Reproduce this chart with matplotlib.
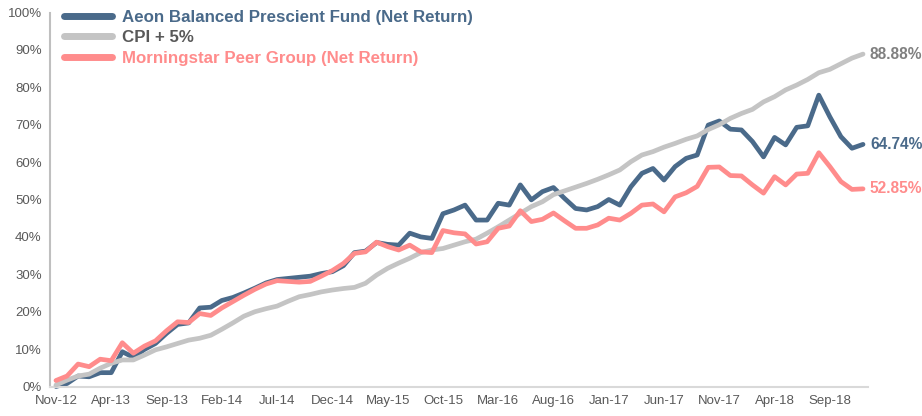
import matplotlib
matplotlib.use('Agg')
import matplotlib.pyplot as plt

# monthly, Nov-12 .. Dec-18 (cumulative %)
months = ["Nov-12", "Dec-12", "Jan-13", "Feb-13", "Mar-13", "Apr-13", "May-13", "Jun-13",
          "Jul-13", "Aug-13", "Sep-13", "Oct-13", "Nov-13", "Dec-13", "Jan-14", "Feb-14",
          "Mar-14", "Apr-14", "May-14", "Jun-14", "Jul-14", "Aug-14", "Sep-14", "Oct-14",
          "Nov-14", "Dec-14", "Jan-15", "Feb-15", "Mar-15", "Apr-15", "May-15", "Jun-15",
          "Jul-15", "Aug-15", "Sep-15", "Oct-15", "Nov-15", "Dec-15", "Jan-16", "Feb-16",
          "Mar-16", "Apr-16", "May-16", "Jun-16", "Jul-16", "Aug-16", "Sep-16", "Oct-16",
          "Nov-16", "Dec-16", "Jan-17", "Feb-17", "Mar-17", "Apr-17", "May-17", "Jun-17",
          "Jul-17", "Aug-17", "Sep-17", "Oct-17", "Nov-17", "Dec-17", "Jan-18", "Feb-18",
          "Mar-18", "Apr-18", "May-18", "Jun-18", "Jul-18", "Aug-18", "Sep-18", "Oct-18",
          "Nov-18", "Dec-18"]

fund = [0.0, 0.8, 2.8, 2.6, 3.7, 3.7, 9.3, 7.8, 9.9, 11.5, 14.2, 16.6, 17.0, 21.0, 21.2,
        23.0, 23.8, 25.0, 26.3, 27.7, 28.6, 28.9, 29.2, 29.5, 30.2, 30.7, 32.3, 35.8, 36.2,
        38.5, 38.0, 37.8, 41.0, 40.0, 39.6, 46.2, 47.2, 48.5, 44.5, 44.5, 49.0, 48.5, 53.9,
        49.9, 52.1, 53.2, 50.3, 47.6, 47.2, 48.1, 50.0, 48.5, 53.4, 57.0, 58.3, 55.2, 58.8,
        61.0, 61.9, 69.9, 71.0, 68.8, 68.6, 65.5, 61.4, 66.6, 64.6, 69.3, 69.7, 77.9, 72.1,
        66.8, 63.7, 64.74]

cpi = [0.4, 1.7, 2.8, 3.3, 4.9, 6.2, 7.1, 7.1, 8.4, 9.8, 10.6, 11.5, 12.4, 12.9, 13.7,
       15.3, 17.0, 18.8, 20.0, 20.8, 21.5, 22.8, 24.0, 24.6, 25.3, 25.8, 26.2, 26.5, 27.6,
       29.8, 31.6, 33.0, 34.3, 35.8, 36.5, 36.9, 37.8, 38.7, 39.4, 41.0, 42.7, 44.5, 46.3,
       48.1, 49.4, 51.3, 52.3, 53.3, 54.3, 55.4, 56.6, 57.9, 60.1, 61.9, 62.8, 64.0, 65.0,
       66.1, 67.0, 68.7, 70.0, 71.7, 73.0, 74.1, 76.1, 77.5, 79.3, 80.6, 82.1, 83.9, 84.8,
       86.3, 87.8, 88.88]

peer = [1.6, 2.8, 6.0, 5.3, 7.3, 6.9, 11.7, 8.9, 10.8, 12.2, 14.9, 17.3, 17.1, 19.5, 19.0,
        21.0, 22.7, 24.4, 26.0, 27.4, 28.3, 28.1, 27.9, 28.1, 29.5, 31.0, 32.9, 35.6, 36.0,
        38.6, 37.4, 36.5, 37.8, 36.0, 35.8, 41.7, 41.1, 40.8, 38.1, 38.7, 42.3, 42.9, 47.0,
        44.1, 44.7, 46.4, 44.3, 42.3, 42.3, 43.2, 45.0, 44.5, 46.3, 48.5, 48.8, 46.7, 50.7,
        51.8, 53.5, 58.6, 58.7, 56.4, 56.3, 53.9, 51.7, 56.1, 53.9, 56.8, 57.0, 62.5, 58.8,
        54.8, 52.7, 52.85]

labels = ["Aeon Balanced Prescient Fund (Net Return)", "CPI + 5%",
          "Morningstar Peer Group (Net Return)"]
colors = ["#4a6a8a", "#c4c4c4", "#ff8c8c"]
text_colors = ["#4a6a8a", "#595959", "#ff8c8c"]
end_colors = ["#4a6a8a", "#808080", "#ff8c8c"]

plt.rcParams['font.family'] = ['Liberation Sans', 'DejaVu Sans']

fig = plt.figure(figsize=(9.22, 4.16), dpi=100)
ax = fig.add_axes([50 / 922, 29.5 / 416, 818 / 922, 374 / 416])

x = list(range(len(months)))
series = [fund, cpi, peer]
lines = []
for i, s in enumerate(series):
    ln, = ax.plot(x, s, color=colors[i], lw=3.4, solid_capstyle='round',
                  solid_joinstyle='round', zorder=2 + i, clip_on=False)
    lines.append(ln)
    ax.annotate("%.2f%%" % s[-1], xy=(x[-1], s[-1]), xytext=(5, 0),
                textcoords='offset points', va='center', ha='left',
                color=end_colors[i], fontsize=11.2, fontweight='bold')

ax.set_xlim(-0.54, len(months) - 1 + 0.45)
ax.set_ylim(0, 100)
ax.set_yticks(range(0, 101, 10))
ax.set_yticklabels(["%d%%" % v for v in range(0, 101, 10)])
ax.set_xticks(x[::5])
ax.set_xticklabels(months[::5])

for sp in ['top', 'right']:
    ax.spines[sp].set_visible(False)
ax.spines['left'].set_color('#bfbfbf')
ax.spines['left'].set_linewidth(1.5)
ax.spines['bottom'].set_color('#d9d9d9')
ax.spines['bottom'].set_linewidth(1.5)
ax.tick_params(length=0, colors='#595959', labelsize=9.5)
ax.tick_params(axis='y', pad=6)
ax.tick_params(axis='x', pad=6)

leg = ax.legend(lines, labels, loc='upper left', bbox_to_anchor=(0.005, 1.035),
                frameon=False, fontsize=12.2, handlelength=2.8, handletextpad=0.6,
                labelspacing=0.33, borderaxespad=0.2)
for t, c in zip(leg.get_texts(), text_colors):
    t.set_color(c)
    t.set_fontweight('bold')
for h in leg.get_lines():
    h.set_linewidth(5)

fig.savefig("out.png", dpi=100)
